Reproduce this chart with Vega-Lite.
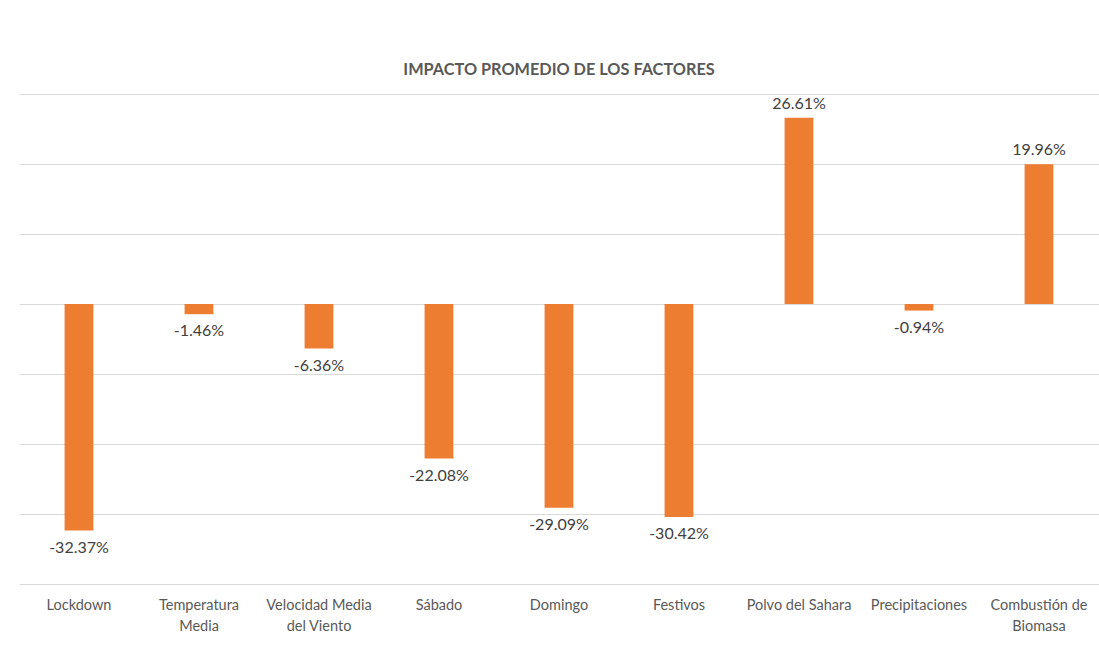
{
  "$schema": "https://vega.github.io/schema/vega-lite/v6.json",
  "autosize": "none",
  "width": 1080,
  "height": 490,
  "padding": {"left": 19, "top": 94, "right": 0, "bottom": 70},
  "background": "white",
  "title": {
    "text": "IMPACTO PROMEDIO DE LOS FACTORES",
    "anchor": "middle",
    "font": "Lato",
    "fontSize": 16.3,
    "fontWeight": "bold",
    "color": "#595959",
    "offset": 16
  },
  "config": {
    "view": {"stroke": null},
    "font": "Lato",
    "locale": {
      "number": {
        "decimal": ".",
        "thousands": ",",
        "grouping": [3],
        "currency": ["$", ""],
        "minus": "-"
      }
    }
  },
  "data": {
    "values": [
      {"Coef_Name": "Lockdown", "Estimate": -0.3237},
      {"Coef_Name": "Temperatura Media", "Estimate": -0.0146},
      {"Coef_Name": "Velocidad Media del Viento", "Estimate": -0.0636},
      {"Coef_Name": "Sábado", "Estimate": -0.2208},
      {"Coef_Name": "Domingo", "Estimate": -0.2909},
      {"Coef_Name": "Festivos", "Estimate": -0.3042},
      {"Coef_Name": "Polvo del Sahara", "Estimate": 0.2661},
      {"Coef_Name": "Precipitaciones", "Estimate": -0.0094},
      {"Coef_Name": "Combustión de Biomasa", "Estimate": 0.1996}
    ]
  },
  "encoding": {
    "x": {
      "field": "Coef_Name",
      "type": "nominal",
      "sort": null,
      "scale": {"paddingInner": 0.76, "paddingOuter": 0.38},
      "axis": {
        "title": null,
        "orient": "bottom",
        "domain": false,
        "ticks": false,
        "labelAngle": 0,
        "labelFont": "Lato",
        "labelFontSize": 14.5,
        "labelColor": "#595959",
        "labelPadding": 14,
        "labelLineHeight": 21,
        "labelBaseline": "top",
        "labelExpr": "datum.label == 'Temperatura Media' ? ['Temperatura', 'Media'] : datum.label == 'Velocidad Media del Viento' ? ['Velocidad Media', 'del Viento'] : datum.label == 'Combustión de Biomasa' ? ['Combustión de', 'Biomasa'] : datum.label"
      }
    },
    "y": {
      "field": "Estimate",
      "type": "quantitative",
      "scale": {"domain": [-0.4, 0.3], "nice": false, "zero": false},
      "axis": {
        "title": null,
        "labels": false,
        "ticks": false,
        "domain": false,
        "values": [-0.4, -0.3, -0.2, -0.1, 0, 0.1, 0.2, 0.3],
        "grid": true,
        "gridColor": "#d9d9d9",
        "gridWidth": 1
      }
    }
  },
  "layer": [
    {
      "mark": {"type": "bar", "color": "#ED7D31"},
      "encoding": {"y2": {"datum": 0}}
    },
    {
      "transform": [{"filter": "datum.Estimate < 0"}],
      "mark": {"type": "text", "font": "Lato", "fontSize": 16, "color": "#404040", "baseline": "middle", "dy": 17},
      "encoding": {"text": {"field": "Estimate", "type": "quantitative", "format": ".2%"}}
    },
    {
      "transform": [{"filter": "datum.Estimate >= 0"}],
      "mark": {"type": "text", "font": "Lato", "fontSize": 16, "color": "#404040", "baseline": "middle", "dy": -14},
      "encoding": {"text": {"field": "Estimate", "type": "quantitative", "format": ".2%"}}
    }
  ]
}
